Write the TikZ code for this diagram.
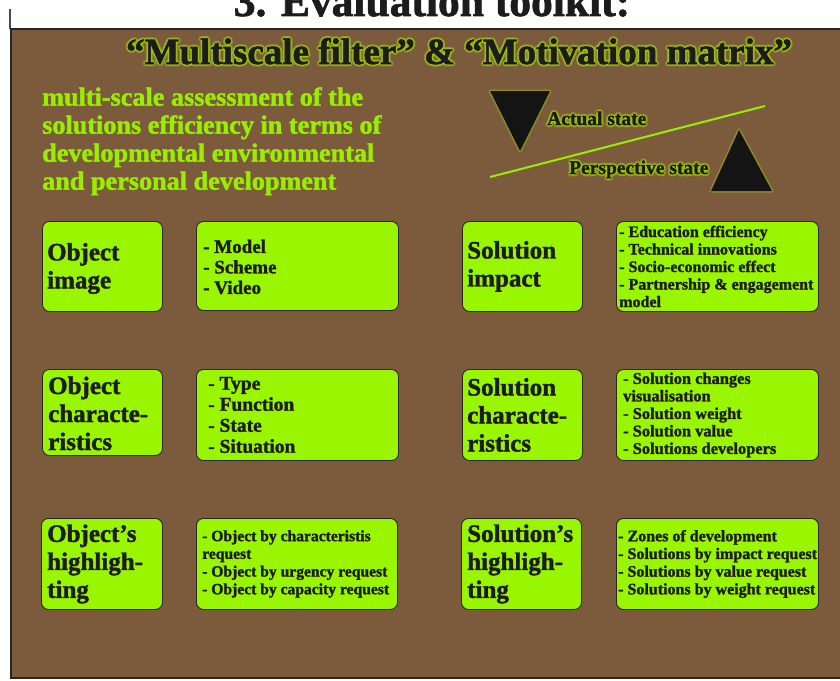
\documentclass[tikz,border=0pt]{standalone}
\usepackage{fontspec}
\setmainfont{Liberation Serif}[BoldFeatures={FakeBold=1.5}]
\definecolor{bgbrown}{RGB}{123,91,60}
\definecolor{boxgreen}{RGB}{153,245,0}
\definecolor{txtgreen}{RGB}{153,238,0}
\definecolor{darktxt}{RGB}{28,28,28}
\definecolor{boxline}{RGB}{40,40,35}
\definecolor{glowc}{RGB}{165,205,10}
\definecolor{trifill}{RGB}{20,20,20}
% #1 name, #2 coordinate, #3 style, #4 text
\newcommand\glowtext[4]{%
  \foreach \r in {1,2}{%
    \foreach \a in {0,45,...,315}{%
      \node[#3, text=glowc, opacity=0.28, xshift={1.1*\r*cos(\a)}, yshift={1.1*\r*sin(\a)}] (#1g\r x\a) at #2 {#4};
    }%
  }%
  \node[#3] (#1) at #2 {#4};%
}
\begin{document}
\begin{tikzpicture}[x=1pt,y=-1pt,
  box/.style={draw=boxline, line width=0.9pt, fill=boxgreen, rounded corners=7pt,
    anchor=north west, inner sep=0pt},
  lbltext/.style={anchor=west, inner sep=0pt, align=left, text=darktxt,
    font=\fontsize{25}{28}\selectfont\bfseries},
  lsttext/.style={anchor=west, inner sep=0pt, align=left, text=darktxt},
  glowlbl/.style={anchor=base west, inner sep=0pt, text=darktxt,
    font=\fontsize{19.5}{22}\selectfont\bfseries},
  heading/.style={anchor=base, inner sep=0pt, text=darktxt,
    font=\fontsize{37}{40}\selectfont\bfseries},
]
\useasboundingbox (0,0) rectangle (840,680);
\fill[white] (0,0) rectangle (840,680);
% top title (cropped)
\node[anchor=base, inner sep=0pt, text=darktxt, font=\fontsize{43.5}{48}\selectfont\bfseries] (toptitle) at (432,16) {3. Evaluation toolkit:};
\draw[black!70, line width=1.2pt] (10,9) -- (10,29);
% panel
\draw[fill=bgbrown, draw=black!85, line width=1.5pt] (11,29) rectangle (852,678);
% heading with glow
\glowtext{head}{(459,64)}{heading}{“Multiscale filter” \& “Motivation matrix”}
% green paragraph
\node[anchor=north west, inner sep=0pt, align=left, text=txtgreen,
  font=\fontsize{26.2}{28}\selectfont\bfseries] (para) at (42,87)
  {multi-scale assessment of the\\solutions efficiency in terms of\\developmental environmental\\and personal development};
% triangles and line
\draw[glowc, opacity=0.45, line width=3pt, line join=round] (490,91) -- (550,91) -- (520,151) -- cycle;
\fill[trifill] (490,91) -- (550,91) -- (520,151) -- cycle;
\draw[glowc, opacity=0.45, line width=3pt, line join=round] (711,191) -- (772,191) -- (739,130) -- cycle;
\fill[trifill] (711,191) -- (772,191) -- (739,130) -- cycle;
\coordinate (la) at (490,177);
\coordinate (lb) at (765,106);
\draw[txtgreen, line width=2pt] (la) -- (lb);
\glowtext{actual}{(547,125)}{glowlbl}{Actual state}
\glowtext{persp}{(569,174)}{glowlbl}{Perspective state}
% ---- row 1
\node[box, minimum width=120pt, minimum height=90pt] (oimg) at (42,221) {};
\node[lbltext] (oimgT) at ([xshift=5pt,yshift=-2pt]oimg.west) {Object\\image};
\node[box, minimum width=202pt, minimum height=89pt] (oimgL) at (196,221) {};
\node[lsttext, font=\fontsize{19}{20.5}\selectfont\bfseries] (oimgLT) at ([xshift=7pt,yshift=-1pt]oimgL.west) {- Model\\- Scheme\\- Video};
\node[box, minimum width=120pt, minimum height=90pt] (simp) at (462,221) {};
\node[lbltext] (simpT) at ([xshift=5pt]simp.west) {Solution\\impact};
\node[box, minimum width=202pt, minimum height=90pt] (simpL) at (616,221) {};
\node[lsttext, font=\fontsize{16}{17.5}\selectfont\bfseries] (simpLT) at ([xshift=3pt]simpL.west) {- Education efficiency\\- Technical innovations\\- Socio-economic effect\\- Partnership \& engagement\\model};
% ---- row 2
\node[box, minimum width=120pt, minimum height=86pt] (ochar) at (42,369) {};
\node[lbltext] (ocharT) at ([xshift=6pt,yshift=-1pt]ochar.west) {Object\\characte-\\ristics};
\node[box, minimum width=202pt, minimum height=91pt] (ocharL) at (196,369) {};
\node[lsttext, font=\fontsize{19.5}{21}\selectfont\bfseries] (ocharLT) at ([xshift=12pt]ocharL.west) {- Type\\- Function\\- State\\- Situation};
\node[box, minimum width=120pt, minimum height=91pt] (schar) at (462,369) {};
\node[lbltext] (scharT) at ([xshift=5pt]schar.west) {Solution\\characte-\\ristics};
\node[box, minimum width=202pt, minimum height=91pt] (scharL) at (616,369) {};
\node[lsttext, font=\fontsize{16.4}{17.5}\selectfont\bfseries] (scharLT) at ([xshift=7pt]scharL.west) {- Solution changes\\visualisation\\- Solution weight\\- Solution value\\- Solutions developers};
% ---- row 3
\node[box, minimum width=121pt, minimum height=91pt] (ohl) at (41,518) {};
\node[lbltext] (ohlT) at ([xshift=6pt]ohl.west) {Object’s\\highligh-\\ting};
\node[box, minimum width=201pt, minimum height=91pt] (ohlL) at (196,518) {};
\node[lsttext, font=\fontsize{15.6}{17.7}\selectfont\bfseries] (ohlLT) at ([xshift=6pt]ohlL.west) {- Object by characteristis\\request\\- Object by urgency request\\- Object by capacity request};
\node[box, minimum width=120pt, minimum height=91pt] (shl) at (461,518) {};
\node[lbltext] (shlT) at ([xshift=6pt]shl.west) {Solution’s\\highligh-\\ting};
\node[box, minimum width=202pt, minimum height=91pt] (shlL) at (616,518) {};
\node[lsttext, font=\fontsize{16}{17.7}\selectfont\bfseries] (shlLT) at ([xshift=2pt]shlL.west) {- Zones of development\\- Solutions by impact request\\- Solutions by value request\\- Solutions by weight request};
\end{tikzpicture}
\end{document}
